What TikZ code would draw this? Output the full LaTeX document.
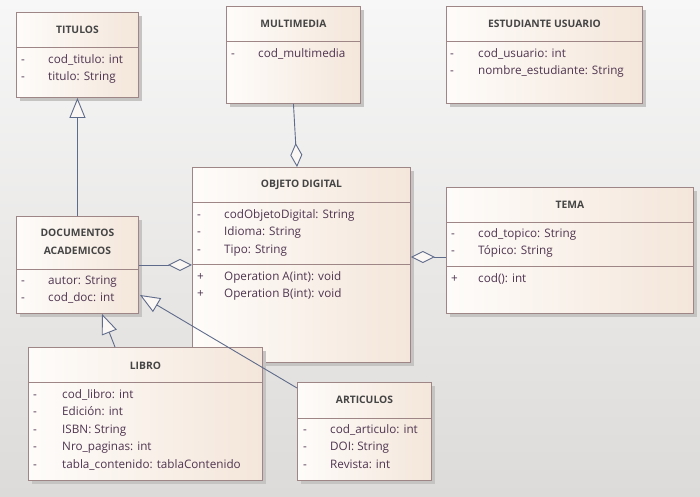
\documentclass[tikz,border=0pt]{standalone}
\usepackage{fontspec}
\setmainfont{Open Sans}
\usepackage{tikz}
\usetikzlibrary{arrows.meta,calc,shadows}
\definecolor{bgtop}{HTML}{F7F7F7}
\definecolor{bgbot}{HTML}{DDDBD9}
\definecolor{boxL}{HTML}{FEFCFA}
\definecolor{boxR}{HTML}{F4E6DA}
\definecolor{frame}{HTML}{9E8686}
\definecolor{shade}{HTML}{C6C4C2}
\definecolor{memtxt}{HTML}{4F3550}
\definecolor{ttltxt}{HTML}{454545}
\definecolor{link}{HTML}{5F6B8A}
\definecolor{tipfill}{HTML}{FBF7F4}
\tikzset{
  cls/.style={draw=frame, line width=0.9pt, left color=boxL, right color=boxR,
    anchor=north west, inner sep=0pt,
    drop shadow={shadow xshift=4pt, shadow yshift=-4pt, fill=shade, opacity=1}},
  sep/.style={draw=frame, line width=0.9pt},
  ttl/.style={text=ttltxt, font=\fontsize{10.3}{18}\selectfont\bfseries, inner sep=0pt, align=center},
  mem/.style={text=memtxt, font=\fontsize{11.7}{12}\selectfont, inner sep=0pt, anchor=base west},
  vis/.style={mem},
  gen/.style={draw=link, line width=0.9pt, -{Triangle[length=20pt, width=16pt, fill=tipfill]}},
  agg/.style={draw=link, line width=0.9pt, -{Diamond[length=24pt, width=12pt, fill=tipfill]}}
}
\begin{document}
\begin{tikzpicture}[x=1pt,y=-1pt]
  \fill[top color=bgtop, bottom color=bgbot] (0,0) rectangle (700,496);
  \useasboundingbox (0,0) rectangle (700,496);

  % class boxes
  \node[cls, minimum width=122pt, minimum height=85pt] (titulos) at (16,12) {};
  \node[cls, minimum width=134pt, minimum height=97pt] (multimedia) at (226,6) {};
  \node[cls, minimum width=196pt, minimum height=97pt] (estudiante) at (446,6) {};
  \node[cls, minimum width=218pt, minimum height=195pt] (objeto) at (192,167) {};
  \node[cls, minimum width=247pt, minimum height=126pt] (tema) at (446,187) {};
  \node[cls, minimum width=122pt, minimum height=97pt] (documentos) at (16,216) {};
  \node[cls, minimum width=134pt, minimum height=98pt] (articulos) at (297,382) {};
  \node[cls, minimum width=234pt, minimum height=133pt] (libro) at (28,347) {};

  % compartments
  \draw[sep] ($(titulos.north west)+(0,35)$) -- ($(titulos.north east)+(0,35)$);
  \draw[sep] ($(multimedia.north west)+(0,35)$) -- ($(multimedia.north east)+(0,35)$);
  \draw[sep] ($(estudiante.north west)+(0,35)$) -- ($(estudiante.north east)+(0,35)$);
  \draw[sep] ($(objeto.north west)+(0,35)$) -- ($(objeto.north east)+(0,35)$);
  \draw[sep] ($(objeto.north west)+(0,97)$) -- ($(objeto.north east)+(0,97)$);
  \draw[sep] ($(tema.north west)+(0,35)$) -- ($(tema.north east)+(0,35)$);
  \draw[sep] ($(tema.north west)+(0,79)$) -- ($(tema.north east)+(0,79)$);
  \draw[sep] ($(documentos.north west)+(0,53)$) -- ($(documentos.north east)+(0,53)$);
  \draw[sep] ($(libro.north west)+(0,35)$) -- ($(libro.north east)+(0,35)$);
  \draw[sep] ($(articulos.north west)+(0,36)$) -- ($(articulos.north east)+(0,36)$);

  % titles
  \node[ttl] (titulos-t) at ($(titulos.north)+(0,18)$) {TITULOS};
  \node[ttl] (multimedia-t) at ($(multimedia.north)+(0,18)$) {MULTIMEDIA};
  \node[ttl] (estudiante-t) at ($(estudiante.north)+(0,18)$) {ESTUDIANTE USUARIO};
  \node[ttl] (objeto-t) at ($(objeto.north)+(0,18)$) {OBJETO DIGITAL};
  \node[ttl] (tema-t) at ($(tema.north)+(0,18)$) {TEMA};
  \node[ttl] (documentos-t) at ($(documentos.north)+(0,26)$) {DOCUMENTOS\\ACADEMICOS};
  \node[ttl] (libro-t) at ($(libro.north)+(0,19)$) {LIBRO};
  \node[ttl] (articulos-t) at ($(articulos.north)+(0,18)$) {ARTICULOS};

  % members (baseline = row centre + 4)
  \foreach \s/\t [count=\i from 0] in {-/cod\_titulo: int, -/titulo: String} {
    \node[vis] (titulos-v\i) at ($(titulos.north west)+(5,51+17.5*\i)$) {\s};
    \node[mem] (titulos-m\i) at ($(titulos.north west)+(32,51+17.5*\i)$) {\t};
  }
  \foreach \s/\t [count=\i from 0] in {-/cod\_multimedia} {
    \node[vis] (multimedia-v\i) at ($(multimedia.north west)+(5,51+17.5*\i)$) {\s};
    \node[mem] (multimedia-m\i) at ($(multimedia.north west)+(32,51+17.5*\i)$) {\t};
  }
  \foreach \s/\t [count=\i from 0] in {-/cod\_usuario: int, -/nombre\_estudiante: String} {
    \node[vis] (estudiante-v\i) at ($(estudiante.north west)+(4,51+17.5*\i)$) {\s};
    \node[mem] (estudiante-m\i) at ($(estudiante.north west)+(32,51+17.5*\i)$) {\t};
  }
  \foreach \s/\t [count=\i from 0] in {-/codObjetoDigital: String, -/Idioma: String,
      -/Tipo: String, +/Operation A(int): void, +/Operation B(int): void} {
    \pgfmathsetmacro{\dy}{\i<3 ? 51+17.5*\i : 113+17.5*(\i-3)}
    \node[vis] (objeto-v\i) at ($(objeto.north west)+(5,\dy)$) {\s};
    \node[mem] (objeto-m\i) at ($(objeto.north west)+(32,\dy)$) {\t};
  }
  \foreach \s/\t [count=\i from 0] in {-/cod\_topico: String, -/Tópico: String, +/cod(): int} {
    \pgfmathsetmacro{\dy}{\i<2 ? 50+17.5*\i : 95}
    \node[vis] (tema-v\i) at ($(tema.north west)+(5,\dy)$) {\s};
    \node[mem] (tema-m\i) at ($(tema.north west)+(32,\dy)$) {\t};
  }
  \foreach \s/\t [count=\i from 0] in {-/autor: String, -/cod\_doc: int} {
    \node[vis] (documentos-v\i) at ($(documentos.north west)+(5,68+17.5*\i)$) {\s};
    \node[mem] (documentos-m\i) at ($(documentos.north west)+(32,68+17.5*\i)$) {\t};
  }
  \foreach \s/\t [count=\i from 0] in {-/cod\_libro: int, -/Edición: int, -/ISBN: String,
      -/Nro\_paginas: int, -/tabla\_contenido: tablaContenido} {
    \node[vis] (libro-v\i) at ($(libro.north west)+(5,51+17.5*\i)$) {\s};
    \node[mem] (libro-m\i) at ($(libro.north west)+(34,51+17.5*\i)$) {\t};
  }
  \foreach \s/\t [count=\i from 0] in {-/cod\_articulo: int, -/DOI: String, -/Revista: int} {
    \node[vis] (articulos-v\i) at ($(articulos.north west)+(6,51+17.5*\i)$) {\s};
    \node[mem] (articulos-m\i) at ($(articulos.north west)+(33,51+17.5*\i)$) {\t};
  }

  % relations
  \draw[gen] (documentos.north) -- (titulos.south);
  \draw[agg] (multimedia.south) -- ($(objeto.north west)+(105,0)$);
  \draw[agg] (documentos.east) -- (documentos.east -| objeto.west);
  \coordinate (temaend) at ($(tema.north west)+(0,70)$);
  \draw[agg] (temaend) -- (temaend -| objeto.east);
  \draw[gen] ($(libro.north west)+(87,0)$) -- ($(documentos.south west)+(86,0)$);
  \draw[gen] ($(articulos.north west)+(0,6)$) -- ($(documentos.east)+(1,30)$);
\end{tikzpicture}
\end{document}
